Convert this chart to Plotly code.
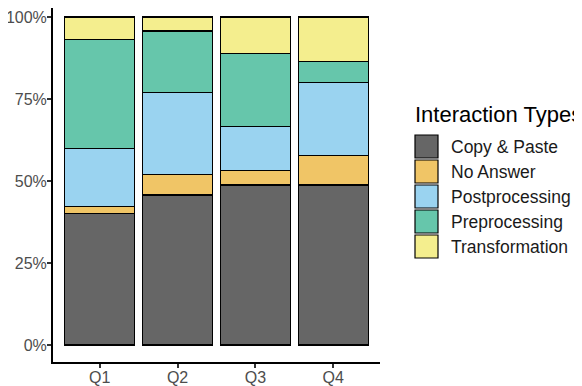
import plotly.graph_objects as go

quarters = ["Q1", "Q2", "Q3", "Q4"]

# share of answers per interaction type (percent)
copy_paste = [40.0, 45.7, 48.8, 48.8]
no_answer = [2.2, 6.3, 4.3, 8.9]
postprocessing = [17.8, 25.0, 13.5, 22.3]
preprocessing = [33.2, 18.7, 22.2, 6.5]
transformation = [6.8, 4.3, 11.2, 13.5]

y_ticks = [0, 25, 50, 75, 100]
y_labels = ["0%", "25%", "50%", "75%", "100%"]

series = [
    ("Copy & Paste", copy_paste, "#666666"),
    ("No Answer", no_answer, "#F0C566"),
    ("Postprocessing", postprocessing, "#9AD3F0"),
    ("Preprocessing", preprocessing, "#66C6AB"),
    ("Transformation", transformation, "#F4EE8E"),
]

W, H = 582, 386
OFF = 8  # page body margin shifts the figure by 8px
L, R, T, B = 45, 210, 0, 32
FONT = "Liberation Sans, Arial, sans-serif"

fig = go.Figure()
for name, vals, col in series:
    fig.add_trace(go.Bar(
        x=quarters, y=vals, name=name, showlegend=False,
        marker=dict(color=col, line=dict(color="black", width=1.2)),
    ))

# ggplot-style legend with big keys, positions given in window pixels
def px(x):
    return (x - OFF - L) / (W - L - R)

def py(y):
    return (H - B - (y - OFF)) / (H - T - B)

fig.add_annotation(
    x=px(413), y=py(114), xref="paper", yref="paper", xanchor="left", yanchor="middle",
    text="Interaction Types", showarrow=False, font=dict(family=FONT, size=22, color="black"),
)
for i, (name, vals, col) in enumerate(series):
    top = 134 + 25 * i
    fig.add_shape(
        type="rect", xref="paper", yref="paper",
        x0=px(415), x1=px(438), y0=py(top + 1), y1=py(top + 24),
        fillcolor=col, line=dict(color="black", width=1.2),
    )
    fig.add_annotation(
        x=px(449), y=py(top + 12.5), xref="paper", yref="paper", xanchor="left", yanchor="middle",
        text=name, showarrow=False, font=dict(family=FONT, size=17.5, color="#1A1A1A"),
    )

axis_font = dict(family=FONT, size=16, color="#4D4D4D")

fig.update_layout(
    width=W, height=H,
    barmode="stack", bargap=0.1,
    plot_bgcolor="white", paper_bgcolor="white",
    margin=dict(l=L, r=R, t=T, b=B, autoexpand=False),
    font=dict(family=FONT, size=16, color="black"),
    showlegend=False,
)
fig.update_xaxes(
    range=[-0.6, 3.6], showline=True, linecolor="black", linewidth=2,
    ticks="outside", ticklen=4, tickwidth=2, tickcolor="#333333",
    tickfont=axis_font, showgrid=False, zeroline=False, automargin=False,
    ticklabelstandoff=-4,
)
fig.update_yaxes(
    range=[-5.19, 102.74], tickvals=y_ticks, ticktext=y_labels,
    showline=True, linecolor="black", linewidth=2,
    ticks="outside", ticklen=4, tickwidth=2, tickcolor="#333333",
    tickfont=axis_font, showgrid=False, zeroline=False, automargin=False,
    ticklabeloverflow="allow", ticklabelstandoff=-3,
)

fig.write_html("out.html")
